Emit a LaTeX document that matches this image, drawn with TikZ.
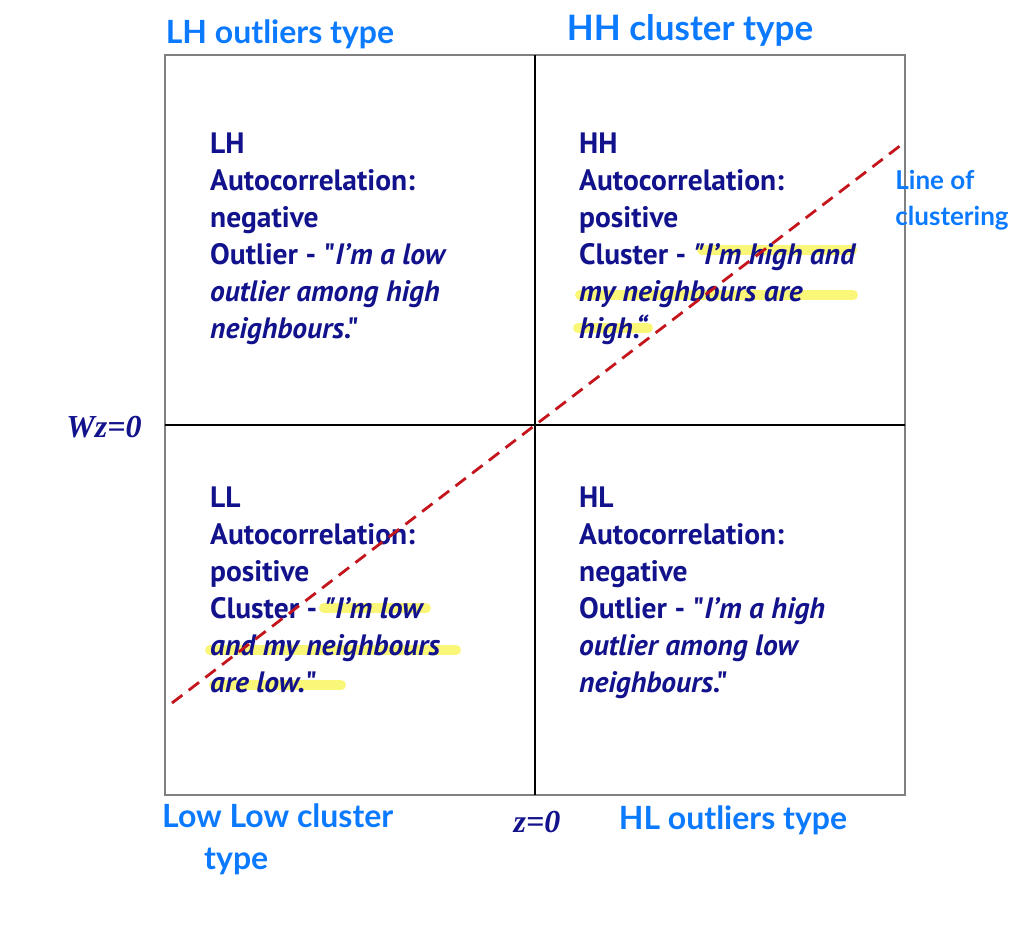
\documentclass[tikz,border=0pt]{standalone}
\usepackage{fontspec}
\setmainfont{PT Sans}[Ligatures=TeXOff]
\newfontfamily\handfont{Lato}
\newfontfamily\timesfont{Liberation Serif}
\definecolor{quadnavy}{RGB}{18,18,140}
\definecolor{clusterred}{RGB}{196,20,28}
\definecolor{penblue}{RGB}{12,122,255}
\definecolor{marker}{RGB}{250,246,120}
\begin{document}
\begin{tikzpicture}[x=1pt, y=-1pt,
  quadtext/.style={anchor=north west, inner sep=0pt, align=left, text=quadnavy, font=\fontsize{29.5}{37}\selectfont\bfseries},
  pen/.style={text=penblue, inner sep=0pt, align=left, font=\handfont\bfseries\fontsize{32}{42}\selectfont},
  axislabel/.style={text=quadnavy, inner sep=0pt, font=\timesfont\bfseries\itshape\fontsize{32}{34}\selectfont},
  hilite/.style={marker, line width=10pt, line cap=round}]
\useasboundingbox (0,0) rectangle (1020,924);
% frame and axes
\coordinate (nw) at (165,55);
\coordinate (se) at (905,795);
\coordinate (origin) at (535,425);
\draw[gray, line width=1.2pt] (nw) rectangle (se);
\draw[line width=2pt] (origin |- nw) -- (origin |- se);
\draw[line width=2pt] (nw |- origin) -- (se |- origin);
\node[axislabel] (wz) at (104,427) {Wz=0};
\node[axislabel] (zz) at (537,822) {z=0};
% highlighter marks
\draw[hilite] (702,250) -- (852,250);
\draw[hilite] (580,295) -- (853,295);
\draw[hilite] (578,328) -- (648,328);
\draw[hilite] (324,608) -- (426,608);
\draw[hilite] (210,650) -- (456,650);
\draw[hilite] (214,685) -- (341,685);
% quadrants
\node[quadtext] (lh) at (210,133) {LH\\Autocorrelation:\\negative\\Outlier - "\textit{I’m a low}\\\textit{outlier among high}\\\textit{neighbours}."};
\node[quadtext] (hh) at (579,133) {HH\\Autocorrelation:\\positive\\Cluster - \textit{"I’m high and}\\\textit{my neighbours are}\\\textit{high.“}};
\node[quadtext] (ll) at (210,487) {LL\\Autocorrelation:\\positive\\Cluster - \textit{"I’m low}\\\textit{and my neighbours}\\\textit{are low.}"};
\node[quadtext] (hl) at (579,487) {HL\\Autocorrelation:\\negative\\Outlier - "\textit{I’m a high}\\\textit{outlier among low}\\\textit{neighbours}."};
% line of clustering
\coordinate (clA) at (172,703);
\coordinate (clB) at (905,142);
\draw[clusterred, line width=2.8pt, dash pattern=on 13pt off 8pt] (clA) -- (clB);
% pen notes
\node[pen] (lhnote) at (280,34) {LH outliers type};
\node[pen, font=\handfont\bfseries\fontsize{35}{42}\selectfont] (hhnote) at (690,30) {HH cluster type};
\node[pen, font=\handfont\bfseries\fontsize{26}{36}\selectfont] (linenote) at (952,200) {Line of\\clustering};
\node[pen, anchor=north west] (llnote) at (162,804) {Low Low cluster\\\hspace*{42pt}type};
\node[pen] (hlnote) at (733,820) {HL outliers type};
\end{tikzpicture}
\end{document}
